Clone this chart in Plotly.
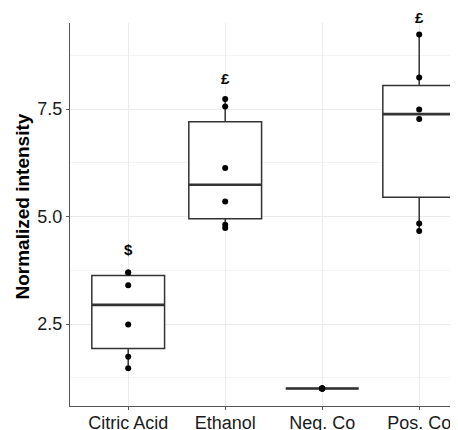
import numpy as np
import plotly.graph_objects as go

categories = ["Citric Acid", "Ethanol", "Neg. Co", "Pos. Co"]
citric_acid = [1.47, 1.74, 2.49, 3.40, 3.70, 3.70]
ethanol = [4.73, 4.81, 5.35, 6.13, 7.56, 7.73]
neg_co = [1.0, 1.0, 1.0, 1.0, 1.0, 1.0]
pos_co = [4.66, 4.84, 7.27, 7.49, 8.23, 9.23]
sig_labels = ["$", "£", "", "£"]
sig_label_y = [4.23, 8.20, None, 9.63]

groups = [citric_acid, ethanol, neg_co, pos_co]
xs = [c for c, g in zip(categories, groups) for _ in g]
ys = [v for g in groups for v in g]

# ggplot-style (R type 7) box statistics
q1, med, q3, lo, hi = [], [], [], [], []
for g in groups:
    a = np.asarray(g, dtype=float)
    p25, p50, p75 = np.percentile(a, [25, 50, 75])
    iqr = p75 - p25
    q1.append(p25); med.append(p50); q3.append(p75)
    lo.append(a[a >= p25 - 1.5 * iqr].min())
    hi.append(a[a <= p75 + 1.5 * iqr].max())

FONT = "Liberation Sans, Arial, sans-serif"
BOXC = "#333333"
Y_LO, Y_PANEL_TOP, Y_HI = 0.593, 9.5, 9.779

fig = go.Figure()
fig.add_trace(go.Box(
    x=categories, q1=q1, median=med, q3=q3, lowerfence=lo, upperfence=hi,
    boxpoints=False, width=0.75,
    fillcolor="white", line=dict(color=BOXC, width=1.5),
    whiskerwidth=0, showlegend=False, hoverinfo="skip",
))
fig.add_trace(go.Scatter(
    x=categories, y=med, mode="markers",
    marker=dict(symbol="line-ew", size=52, color=BOXC,
                line=dict(color=BOXC, width=2.6)),
    showlegend=False, hoverinfo="skip",
))
fig.add_trace(go.Scatter(
    x=xs, y=ys, mode="markers",
    marker=dict(size=6, color="black"),
    showlegend=False,
))

# white band above the panel (labels may sit above the panel, as in the reference)
fig.add_shape(type="rect", xref="paper", yref="y", x0=-0.012, x1=1.0,
              y0=Y_PANEL_TOP, y1=Y_HI, fillcolor="white",
              line=dict(width=0), layer="above")

for c, t, yv in zip(categories, sig_labels, sig_label_y):
    if t and yv is not None:
        fig.add_annotation(x=c, y=yv, text=f"<b>{t}</b>", showarrow=False,
                           xanchor="center", yanchor="middle",
                           font=dict(family=FONT, size=15, color="black"))

fig.add_annotation(
    xref="paper", yref="y", x=0, y=(Y_LO + Y_PANEL_TOP) / 2, xshift=-48, yshift=8,
    text="<b>Normalized intensity</b>", textangle=-90, showarrow=False,
    xanchor="center", yanchor="middle",
    font=dict(family=FONT, size=19, color="black"),
)

# page body has an 8px default margin; size/margins compensate for it
fig.update_layout(
    width=450, height=422,
    margin=dict(l=62, r=0, t=3, b=24),
    paper_bgcolor="white", plot_bgcolor="white",
    showlegend=False,
    xaxis=dict(
        type="category", categoryorder="array", categoryarray=categories,
        range=[-0.6, 3.4], showgrid=True, gridcolor="#ebebeb", gridwidth=1.2,
        showline=True, linecolor="#555555", linewidth=1.3,
        ticks="outside", ticklen=3, tickcolor="#555555",
        tickfont=dict(family=FONT, size=18, color="#1a1a1a"),
        ticklabelstandoff=-3,
        zeroline=False, automargin=False,
    ),
    yaxis=dict(
        range=[Y_LO, Y_HI], tick0=0, dtick=2.5, tickformat=".1f",
        showgrid=True, gridcolor="#ebebeb", gridwidth=1.2,
        minor=dict(dtick=1.25, tick0=0, showgrid=True, gridcolor="#f3f3f3", gridwidth=0.8),
        showline=True, linecolor="#555555", linewidth=1.3,
        ticks="outside", ticklen=3, tickcolor="#555555",
        tickfont=dict(family=FONT, size=18, color="#1a1a1a"),
        zeroline=False, automargin=False,
    ),
)

fig.write_html("out.html")
